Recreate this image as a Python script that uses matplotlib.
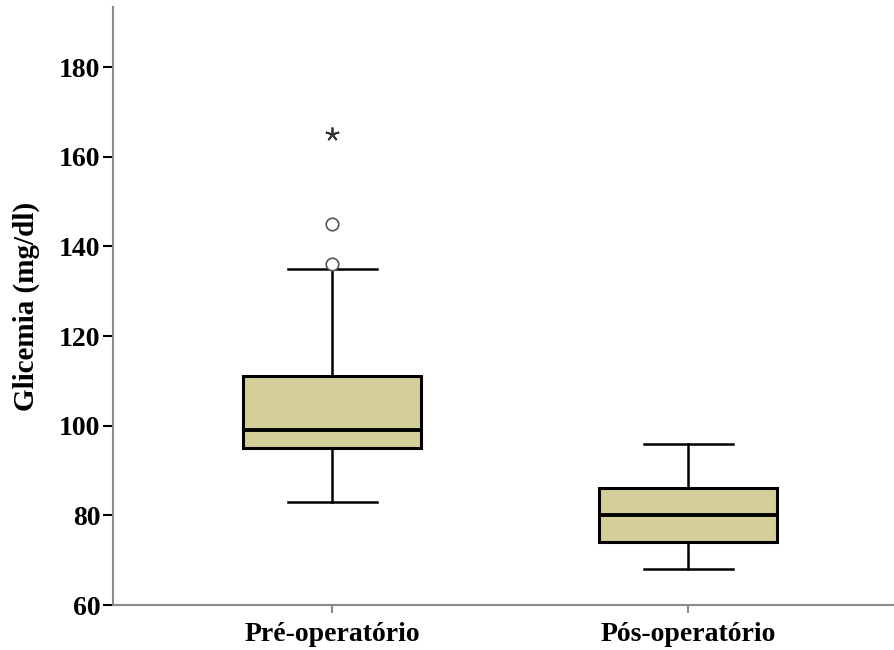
import matplotlib
matplotlib.use('agg')
import matplotlib.pyplot as plt

# boxplot summary per group: whiskers, quartiles, median, outliers
groups = ['Pré-operatório', 'Pós-operatório']
whislo = [83, 68]
q1 = [95, 74]
med = [99, 80]
q3 = [111, 86]
whishi = [135, 96]
outliers = [[136, 145], []]
extremes = [[165], []]

box_color = '#d4cf98'
axis_color = '#8a8a8a'

plt.rcParams['font.family'] = 'Liberation Serif'
plt.rcParams['font.weight'] = 'bold'

fig = plt.figure(figsize=(8.95, 6.5), dpi=100)
ax = fig.add_axes([0.1263, 0.0692, 0.8737, 0.92])

stats = []
for i, g in enumerate(groups):
    stats.append(dict(label=g, whislo=whislo[i], q1=q1[i], med=med[i],
                      q3=q3[i], whishi=whishi[i], fliers=outliers[i]))

positions = [1, 2]
ax.bxp(stats, positions=positions, widths=0.5, patch_artist=True,
       showfliers=True,
       boxprops=dict(facecolor=box_color, edgecolor='black', linewidth=2.2),
       medianprops=dict(color='black', linewidth=2.8),
       whiskerprops=dict(color='black', linewidth=1.8),
       capprops=dict(color='black', linewidth=1.8),
       capwidths=0.25,
       flierprops=dict(marker='o', markersize=9, markerfacecolor='white',
                       markeredgecolor='#555555', markeredgewidth=1.2))

# extreme values drawn as stars
for pos, vals in zip(positions, extremes):
    if vals:
        ax.plot([pos] * len(vals), vals, linestyle='none', marker=(5, 2, 0),
                markersize=10, markeredgecolor='#333333', markeredgewidth=1.3)

ax.set_xlim(0.385, 2.58)
ax.set_ylim(60, 193.4)
ax.set_yticks([60, 80, 100, 120, 140, 160, 180])
ax.set_xticks(positions)
ax.set_xticklabels(groups)

ax.spines['top'].set_visible(False)
ax.spines['right'].set_visible(False)
ax.spines['left'].set_color(axis_color)
ax.spines['bottom'].set_color(axis_color)
ax.spines['left'].set_linewidth(1.5)
ax.spines['bottom'].set_linewidth(1.5)

ax.tick_params(axis='y', direction='out', length=7, width=1.5, color='black',
               labelsize=20, pad=2)
ax.tick_params(axis='x', direction='out', length=6, width=1.5,
               color=axis_color, labelsize=20, pad=6)
for lbl in ax.get_xticklabels() + ax.get_yticklabels():
    lbl.set_fontweight('bold')

ax.set_ylabel('Glicemia (mg/dl)', fontsize=21, fontweight='bold', labelpad=14)

fig.savefig('out.png', dpi=100)
